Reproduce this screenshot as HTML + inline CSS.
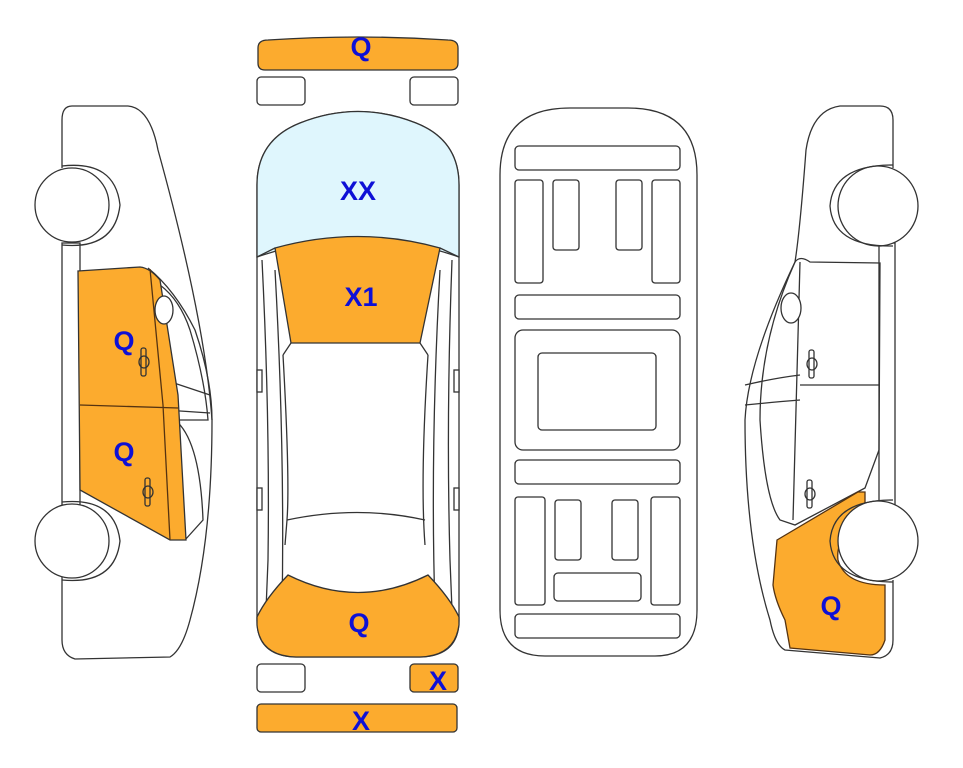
<!DOCTYPE html>
<html><head><style>
html,body{margin:0;padding:0;background:#fff;}
svg{display:block;}
text{font-family:"Liberation Sans",sans-serif;font-weight:bold;fill:#0e10d6;font-size:27px;text-anchor:middle;}
</style></head><body>
<svg width="963" height="768" viewBox="0 0 963 768" xmlns="http://www.w3.org/2000/svg" fill="none" stroke="#333" stroke-width="1.3">
<!-- LEFT CAR -->
<path d="M72,106 L128,106 Q150,108 158,150 Q205,320 212,420 Q212,540 190,620 Q182,650 170,657 L75,659 Q62,655 62,640 L62,120 Q62,106 72,106 Z" fill="#fff" stroke="none"/>
<path d="M62,168 L62,120 Q62,106 72,106 L128,106 Q150,108 158,150 Q205,320 212,420 Q212,540 190,620 Q182,650 170,657 L75,659 Q62,655 62,640 L62,575" />
<rect x="62" y="243" width="18" height="262" fill="#fff"/>
<path d="M148,268 Q175,290 195,330 Q212,380 212,420" />
<path d="M160,285 Q180,300 190,330 Q205,380 208,420 L175,420 Q165,400 160,380" />
<path d="M165,380 L210,395 M165,410 L210,413 M175,420 Q200,440 203,520 L185,540" />
<path d="M78,271 L140,267 Q150,268 160,280 L178,395 L186,540 L170,540 L80,490 Z" fill="#fcab2e"/>
<path d="M80,405 L178,408 M150,269 L163,405 L170,540" stroke="#553311"/>
<ellipse cx="164" cy="310" rx="9" ry="14" fill="#fff"/>
<rect x="141" y="348" width="5" height="28" rx="2"/><ellipse cx="144" cy="362" rx="5" ry="6"/>
<rect x="145" y="478" width="5" height="28" rx="2"/><ellipse cx="148" cy="492" rx="5" ry="6"/>
<circle cx="72" cy="205" r="37" fill="#fff"/><path d="M62,166 Q115,160 120,205 Q115,250 62,245"/>
<circle cx="72" cy="541" r="37" fill="#fff"/><path d="M62,502 Q115,497 120,541 Q115,585 62,580"/>
<text x="124" y="350" stroke="none">Q</text>
<text x="124" y="461" stroke="none">Q</text>

<!-- CENTER TOP VIEW -->
<path d="M258,48 Q258,40 268,40 Q358,34 448,40 Q458,40 458,48 L458,63 Q458,70 450,70 L265,70 Q258,70 258,63 Z" fill="#fcab2e"/>
<text x="361" y="56" stroke="none">Q</text>
<rect x="257" y="77" width="48" height="28" rx="4" fill="#fff"/>
<rect x="410" y="77" width="48" height="28" rx="4" fill="#fff"/>
<path d="M257,185 Q257,140 300,123 Q358,100 416,123 Q459,140 459,185 L459,620 Q459,656 420,657 L296,657 Q257,656 257,620 Z" fill="#fff"/>
<path d="M257,185 Q257,140 300,123 Q358,100 416,123 Q459,140 459,185 L459,257 Q358,222 257,257 Z" fill="#dff6fd"/>
<path d="M275,248 Q358,225 440,248 L420,343 L291,343 Z" fill="#fcab2e"/>
<path d="M257,257 L275,248 M459,257 L440,248 M291,343 L283,355 M420,343 L428,355"/>
<path d="M262,260 Q270,420 268,560 L265,635 M452,260 Q446,420 450,560 L453,635"/>
<path d="M275,270 Q285,450 282,610 M440,270 Q430,450 435,610"/>
<path d="M283,355 Q290,480 287,520 L285,545 M428,355 Q420,480 425,545"/>
<path d="M287,520 Q358,505 425,520"/>
<path d="M257,617 Q266,598 288,575 Q358,610 428,575 Q450,598 459,617 L459,625 Q455,656 420,657 L296,657 Q260,656 257,625 Z" fill="#fcab2e"/>
<rect x="257" y="370" width="5" height="22" fill="#fff"/><rect x="454" y="370" width="5" height="22" fill="#fff"/>
<rect x="257" y="488" width="5" height="22" fill="#fff"/><rect x="454" y="488" width="5" height="22" fill="#fff"/>
<text x="358" y="200" stroke="none">XX</text>
<text x="361" y="306" stroke="none">X1</text>
<text x="359" y="632" stroke="none">Q</text>
<rect x="257" y="664" width="48" height="28" rx="4" fill="#fff"/>
<rect x="410" y="664" width="48" height="28" rx="4" fill="#fcab2e"/>
<text x="438" y="690" stroke="none">X</text>
<rect x="257" y="704" width="200" height="28" rx="4" fill="#fcab2e"/>
<text x="361" y="730" stroke="none">X</text>

<!-- UNDERBODY -->
<path d="M500,175 Q500,108 570,108 L628,108 Q697,108 697,175 L697,610 Q697,656 655,656 L545,656 Q500,656 500,610 Z" fill="#fff"/>
<rect x="515" y="146" width="165" height="24" rx="4"/>
<rect x="515" y="180" width="28" height="103" rx="3"/>
<rect x="553" y="180" width="26" height="70" rx="3"/>
<rect x="616" y="180" width="26" height="70" rx="3"/>
<rect x="652" y="180" width="28" height="103" rx="3"/>
<rect x="515" y="295" width="165" height="24" rx="4"/>
<rect x="515" y="330" width="165" height="120" rx="8"/>
<rect x="538" y="353" width="118" height="77" rx="4"/>
<rect x="515" y="460" width="165" height="24" rx="4"/>
<rect x="515" y="497" width="30" height="108" rx="3"/>
<rect x="555" y="500" width="26" height="60" rx="3"/>
<rect x="612" y="500" width="26" height="60" rx="3"/>
<rect x="651" y="497" width="29" height="108" rx="3"/>
<rect x="554" y="573" width="87" height="28" rx="4"/>
<rect x="515" y="614" width="165" height="24" rx="4"/>

<!-- RIGHT CAR -->
<path d="M893,168 L893,120 Q893,106 880,106 L840,106 Q812,110 806,150 Q800,230 795,262 Q748,360 745,420 Q745,540 770,620 Q775,645 785,650 L880,658 Q893,655 893,640 L893,580" fill="#fff"/>
<rect x="879" y="243" width="16" height="262" fill="#fff"/>
<path d="M795,262 Q800,255 810,262 L880,263 L879,450 L865,488 L795,525 L780,520 Q765,500 760,420 Q760,340 795,262"/>
<path d="M745,385 Q775,378 800,375 M745,405 Q775,402 800,400 M800,262 L793,520 M800,385 L879,385"/>
<ellipse cx="791" cy="308" rx="10" ry="15" fill="#fff"/>
<path d="M777,540 L858,492 L865,492 L865,525 Q835,535 838,560 Q845,585 885,585 L885,640 Q880,655 870,655 L790,648 L785,620 Q775,600 773,585 Z" fill="#fcab2e" stroke="#553311"/>
<rect x="809" y="350" width="5" height="28" rx="2"/><ellipse cx="812" cy="364" rx="5" ry="6"/>
<rect x="807" y="480" width="5" height="28" rx="2"/><ellipse cx="810" cy="494" rx="5" ry="6"/>
<circle cx="878" cy="206" r="40" fill="#fff"/><path d="M893,165 Q833,165 830,206 Q833,247 893,246"/>
<circle cx="878" cy="541" r="40" fill="#fff"/><path d="M893,500 Q833,500 830,541 Q833,582 893,582"/>
<text x="831" y="615" stroke="none">Q</text>
</svg>
</body></html>
